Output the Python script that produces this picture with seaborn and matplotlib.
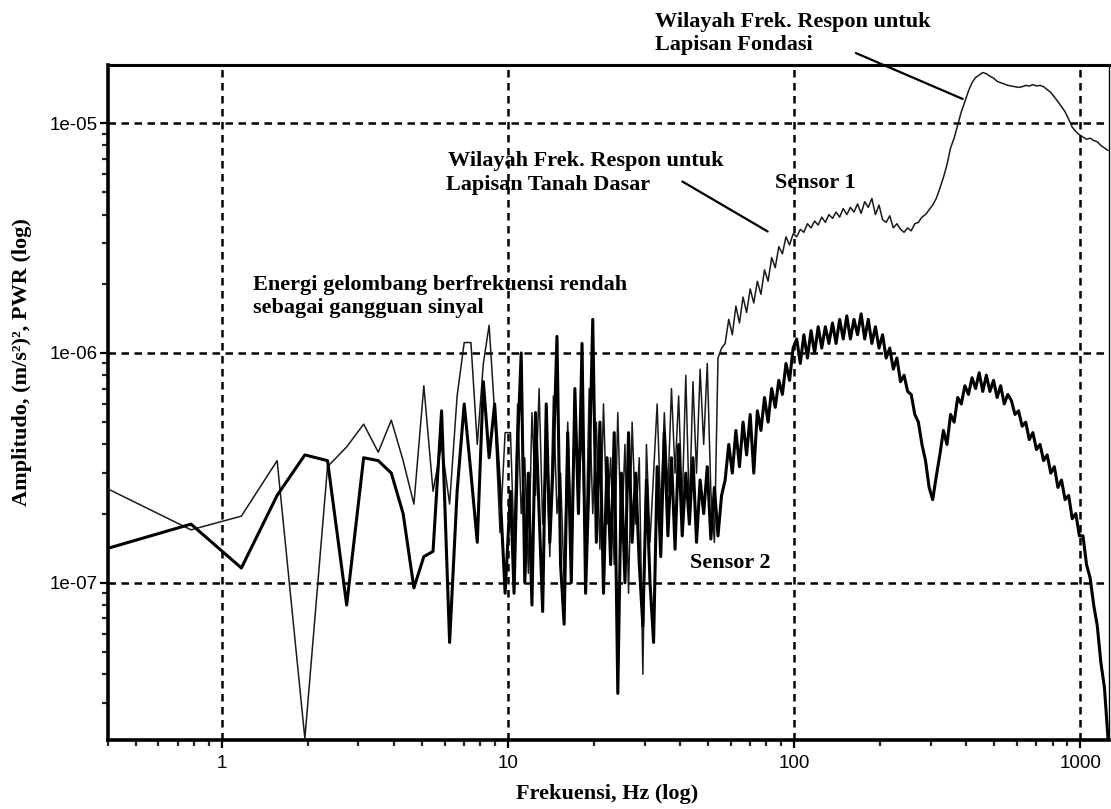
import numpy as np
import pandas as pd
import matplotlib
matplotlib.use("Agg")
import matplotlib.pyplot as plt
import seaborn as sns
from matplotlib.ticker import LogLocator, FuncFormatter, NullFormatter

# Power spectra of two accelerometers, amplitudes listed in units of 1e-7 (m/s2)^2
AMP_UNIT = 1e-7

# lowest FFT bins (Hz)
freq_low = [0.39, 0.78, 1.17, 1.56, 1.95, 2.34, 2.73, 3.13, 3.52, 3.91,
            4.30, 4.69, 5.08, 5.47, 5.86, 6.25, 6.64, 7.03, 7.42, 7.81,
            8.20, 8.59, 8.98, 9.38, 9.77]
sensor1_low = [2.6, 1.7, 1.95, 3.4, 0.21, 3.2, 3.9, 4.9, 3.7, 5.1,
               3.4, 2.2, 7.2, 2.5, 4.0, 2.2, 6.5, 11.1, 11.1, 4.0,
               9.0, 13.2, 5.5, 1.65, 4.5]
sensor2_low = [1.4, 1.8, 1.16, 2.4, 3.6, 3.4, 0.8, 3.5, 3.4, 3.0,
               2.0, 0.95, 1.3, 1.37, 5.6, 0.55, 2.5, 6.0, 3.0, 1.5,
               7.5, 3.5, 6.0, 2.5, 0.9]

# log-spaced readout of the spectrum from 10.2 Hz up to 1250 Hz
freq_high = np.geomspace(10.2, 1250, 168)
sensor1_high = [
    4.5, 1.5, 6.0, 2.0, 3.5, 1.1, 5.5, 2.4, 7.0, 1.8,
    4.0, 1.3, 6.5, 2.0, 3.0, 1.0, 5.0, 1.6, 6.0, 2.5,
    4.5, 1.2, 7.0, 2.0, 5.0, 1.4, 6.0, 1.8, 3.5, 1.2,
    5.5, 1.5, 4.0, 0.9, 5.0, 1.8, 3.5, 0.4, 4.0, 1.5,
    3.0, 6.0, 2.0, 5.5, 2.5, 7.0, 3.0, 6.5, 2.2, 8.0,
    2.0, 7.5, 3.0, 8.5, 4.0, 9.0, 2.5, 1.5, 9.5, 10.5,
    11.0, 14.0, 12.0, 16.0, 13.5, 17.5, 15.0, 19.0, 16.5, 20.5,
    18.0, 23.0, 20.5, 26.0, 23.5, 29.0, 27.0, 32.0, 29.5, 33.0,
    32.0, 34.5, 33.5, 36.5, 35.0, 37.5, 36.0, 39.0, 37.0, 40.0,
    38.5, 41.0, 39.0, 42.5, 40.0, 43.0, 41.0, 44.5, 40.5, 45.5,
    43.0, 47.0, 40.0, 44.0, 38.0, 37.0, 39.5, 35.0, 36.5, 34.5,
    33.5, 35.0, 34.0, 36.5, 37.0, 39.0, 40.0, 42.0, 44.0, 47.0,
    52.0, 58.0, 66.0, 78.0, 86.0, 98.0, 112.0, 124.0, 138.0, 150.0,
    158.0, 162.0, 166.0, 164.0, 160.0, 157.0, 152.0, 150.0, 148.0, 146.0,
    145.0, 144.0, 143.0, 144.0, 146.0, 145.0, 147.0, 145.0, 146.0, 144.0,
    140.0, 136.0, 130.0, 124.0, 118.0, 112.0, 104.0, 96.0, 92.0, 89.0,
    87.0, 85.0, 86.0, 84.0, 83.0, 80.0, 78.0, 76.0]
sensor2_high = [
    2.5, 0.9, 4.0, 10.0, 1.0, 3.0, 0.8, 5.5, 2.0, 0.75,
    6.0, 1.5, 3.5, 11.8, 1.2, 0.66, 4.5, 1.0, 7.0, 2.0,
    11.0, 0.9, 3.0, 14.0, 1.5, 5.0, 0.9, 3.5, 1.2, 4.5,
    0.33, 3.0, 1.0, 4.5, 1.5, 3.0, 1.2, 0.65, 2.8, 1.0,
    0.55, 3.2, 1.3, 4.5, 1.6, 3.5, 1.4, 4.0, 1.6, 3.0,
    1.8, 3.5, 1.5, 2.8, 2.0, 3.2, 1.55, 2.6, 1.6, 2.4,
    2.8, 4.0, 3.0, 4.6, 3.2, 5.0, 3.6, 5.4, 3.0, 5.6,
    4.6, 6.4, 5.0, 7.0, 5.8, 7.6, 6.6, 9.0, 7.6, 10.5,
    11.5, 9.0, 12.0, 9.5, 12.5, 10.0, 13.0, 10.5, 13.0, 11.0,
    13.5, 11.0, 14.0, 11.5, 14.5, 11.5, 14.0, 12.0, 14.8, 11.5,
    14.0, 11.0, 13.0, 10.5, 12.0, 9.5, 10.5, 8.5, 9.5, 7.5,
    8.0, 6.8, 6.6, 5.4, 5.0, 4.0, 3.4, 2.6, 2.3, 2.9,
    3.6, 4.6, 4.0, 5.4, 5.0, 6.4, 6.0, 7.2, 6.6, 7.8,
    7.0, 8.2, 6.8, 8.0, 6.8, 7.6, 6.4, 7.2, 6.0, 6.6,
    6.2, 5.4, 5.6, 4.8, 5.0, 4.2, 4.5, 3.8, 4.0, 3.4,
    3.6, 3.0, 3.2, 2.6, 2.8, 2.3, 2.4, 1.9, 2.0, 1.6,
    1.6, 1.2, 1.05, 0.8, 0.65, 0.45, 0.35, 0.21]

x_ticks = [1, 10, 100, 1000]
y_ticks = [1e-7, 1e-6, 1e-5]

freq = np.concatenate([freq_low, freq_high])
spec = pd.DataFrame({
    "freq": np.concatenate([freq, freq]),
    "amp": np.concatenate([np.array(sensor1_low + sensor1_high),
                           np.array(sensor2_low + sensor2_high)]) * AMP_UNIT,
    "sensor": ["Sensor 1"] * len(freq) + ["Sensor 2"] * len(freq),
})

sns.set_style("white")
plt.rcParams["font.family"] = ["Liberation Sans", "DejaVu Sans"]

W, H = 1111, 809
fig = plt.figure(figsize=(W / 100, H / 100), dpi=100)
ax = fig.add_axes([108 / W, 1 - 740 / H, 1001 / W, 675 / H])

sns.lineplot(data=spec[spec.sensor == "Sensor 1"], x="freq", y="amp", ax=ax,
             color="#1a1a1a", linewidth=1.1, estimator=None, sort=False,
             legend=False, zorder=3)
sns.lineplot(data=spec[spec.sensor == "Sensor 2"], x="freq", y="amp", ax=ax,
             color="black", linewidth=2.2, estimator=None, sort=False,
             legend=False, zorder=4)

ax.set_xscale("log")
ax.set_yscale("log")
ax.set_xlim(0.40, 1260)
ax.set_ylim(2.07e-8, 1.79e-5)

ax.xaxis.set_major_locator(plt.FixedLocator(x_ticks))
ax.yaxis.set_major_locator(plt.FixedLocator(y_ticks))
ax.xaxis.set_minor_locator(LogLocator(base=10, subs=np.arange(2, 10) * 1.0, numticks=50))
ax.yaxis.set_minor_locator(LogLocator(base=10, subs=np.arange(2, 10) * 1.0, numticks=50))
ax.xaxis.set_minor_formatter(NullFormatter())
ax.yaxis.set_minor_formatter(NullFormatter())
ax.xaxis.set_major_formatter(FuncFormatter(lambda v, _: f"{v:g}"))
ax.yaxis.set_major_formatter(FuncFormatter(lambda v, _: f"{v:.0e}"))

ax.tick_params(which="major", direction="out", length=6, width=1.6,
               labelsize=13.5, colors="black", bottom=True, left=True,
               top=False, right=False)
ax.tick_params(which="minor", direction="out", length=4, width=1.6,
               bottom=True, left=True, top=False, right=False)
ax.tick_params(axis="x", which="major", pad=5)
ax.tick_params(axis="y", which="major", pad=1.5)

ax.grid(True, which="major", color="black", linestyle=(0, (3, 2.2)), linewidth=1.8)
ax.grid(False, which="minor")
ax.set_axisbelow(True)

for side, lw in [("left", 2.6), ("bottom", 2.6), ("top", 2.2), ("right", 1.0)]:
    ax.spines[side].set_visible(True)
    ax.spines[side].set_color("black")
    ax.spines[side].set_linewidth(lw)

ax.set_xlabel("")
ax.set_ylabel("")

serif_bold = dict(family=["Liberation Serif", "DejaVu Serif"], fontweight="bold",
                  fontsize=16, color="black")


def fig_xy(px, py):
    return px / W, 1 - py / H


fig.text(*fig_xy(607, 794), "Frekuensi, Hz (log)", ha="center", va="center", **serif_bold)
fig.text(*fig_xy(22, 362), "Amplitudo, (m/s²)², PWR (log)", ha="center", va="center",
         rotation=90, **serif_bold)

notes = [
    (655, 22, "Wilayah Frek. Respon untuk"),
    (655, 45, "Lapisan Fondasi"),
    (448, 161, "Wilayah Frek. Respon untuk"),
    (446, 185, "Lapisan Tanah Dasar"),
    (775, 183, "Sensor 1"),
    (253, 285, "Energi gelombang berfrekuensi rendah"),
    (253, 308, "sebagai gangguan sinyal"),
    (690, 563, "Sensor 2"),
]
for px, py, txt in notes:
    fig.text(*fig_xy(px, py), txt, ha="left", va="center", **serif_bold)

# leader lines from the region labels to the spectrum
ax.annotate("", xy=(396, 1.26e-5), xytext=(161, 2.04e-5),
            arrowprops=dict(arrowstyle="-", color="black", lw=1.6),
            annotation_clip=False)
ax.annotate("", xy=(82.4, 3.33e-6), xytext=(39.9, 5.65e-6),
            arrowprops=dict(arrowstyle="-", color="black", lw=1.6),
            annotation_clip=False)

fig.savefig("out.png", dpi=100, facecolor="white")
